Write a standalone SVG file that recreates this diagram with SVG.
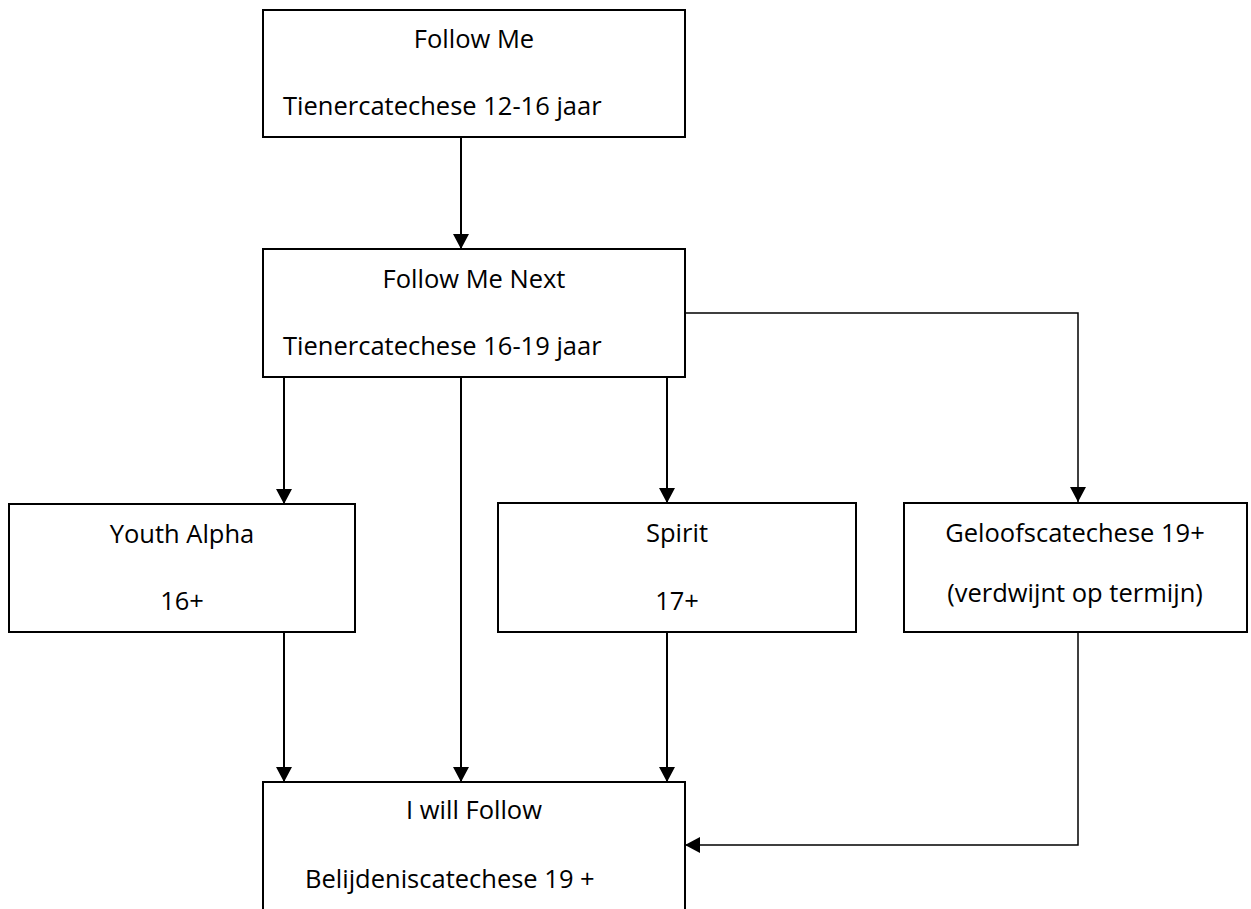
<svg xmlns="http://www.w3.org/2000/svg" width="1251" height="909" viewBox="0 0 1251 909">
<style>
.box{fill:#fff;stroke:#000;stroke-width:2}
.t{font-family:"Open Sans","Liberation Sans",sans-serif;font-size:25.5px;fill:#000}
.m{text-anchor:middle}
.c{fill:none;stroke:#000;stroke-width:2}
.thin{stroke-width:1.5}
</style>
<defs>
<marker id="ah" markerUnits="userSpaceOnUse" markerWidth="16" markerHeight="16" refX="15" refY="8" orient="auto">
<path d="M0,0 L15,8 L0,16 Z" fill="#000"/>
</marker>
</defs>
<rect width="1251" height="909" fill="#fff"/>
<g id="connectors">
<line class="c" x1="461" y1="137" x2="461" y2="249" marker-end="url(#ah)"/>
<line class="c" x1="284" y1="377" x2="284" y2="504" marker-end="url(#ah)"/>
<line class="c" x1="461" y1="377" x2="461" y2="782" marker-end="url(#ah)"/>
<line class="c" x1="667" y1="377" x2="667" y2="503" marker-end="url(#ah)"/>
<polyline class="c thin" points="685,313 1078,313 1078,502" marker-end="url(#ah)"/>
<line class="c" x1="284" y1="632" x2="284" y2="782" marker-end="url(#ah)"/>
<line class="c" x1="667" y1="632" x2="667" y2="782" marker-end="url(#ah)"/>
<polyline class="c thin" points="1078,632 1078,845 685,845" marker-end="url(#ah)"/>
</g>
<g id="follow-me">
<rect class="box" x="263" y="10" width="422" height="127"/>
<text class="t m" x="474" y="48">Follow Me</text>
<text class="t" x="283" y="115">Tienercatechese 12-16 jaar</text>
</g>
<g id="follow-me-next">
<rect class="box" x="263" y="249" width="422" height="128"/>
<text class="t m" x="474" y="288">Follow Me Next</text>
<text class="t" x="283" y="355">Tienercatechese 16-19 jaar</text>
</g>
<g id="youth-alpha">
<rect class="box" x="9" y="504" width="346" height="128"/>
<text class="t m" x="182" y="543">Youth Alpha</text>
<text class="t m" x="182" y="610">16+</text>
</g>
<g id="spirit">
<rect class="box" x="498" y="503" width="358" height="129"/>
<text class="t m" x="677" y="542">Spirit</text>
<text class="t m" x="677" y="610">17+</text>
</g>
<g id="geloofscatechese">
<rect class="box" x="904" y="503" width="343" height="129"/>
<text class="t m" x="1075" y="542">Geloofscatechese 19+</text>
<text class="t m" x="1075" y="602">(verdwijnt op termijn)</text>
</g>
<g id="i-will-follow">
<rect class="box" x="263" y="782" width="422" height="150"/>
<text class="t m" x="474" y="819">I will Follow</text>
<text class="t" x="305" y="888">Belijdeniscatechese 19 +</text>
</g>
</svg>
